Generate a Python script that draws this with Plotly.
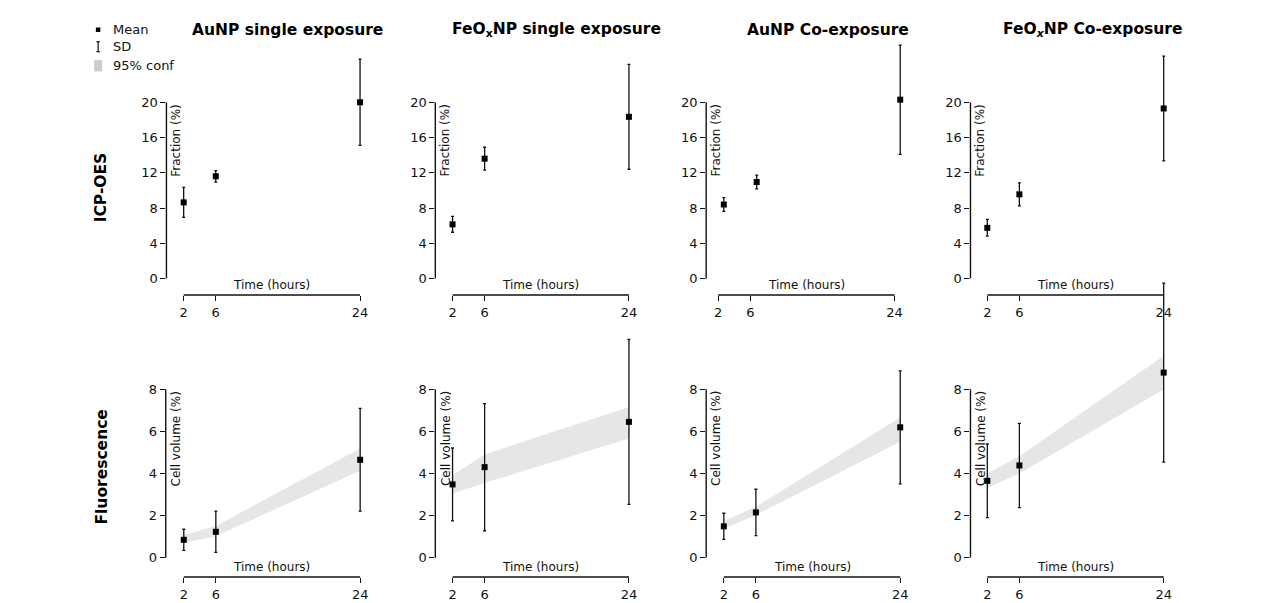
import plotly.graph_objects as go

# ---------------- data ----------------
times = [2, 6, 24]
times_icp_au_co = [2.7, 6.8, 24.7]

panel_titles = ["<b>AuNP single exposure</b>",
                "<b>FeO<sub>x</sub>NP single exposure</b>",
                "<b>AuNP Co-exposure</b>",
                "<b>FeO<sub><i>x</i></sub>NP Co-exposure</b>"]
row_titles = ["<b>ICP-OES</b>", "<b>Fluorescence</b>"]

# ICP-OES (Fraction %)
icp_au_single_mean = [8.64, 11.6, 20.0]
icp_au_single_sd = [1.7, 0.65, 4.9]
icp_fe_single_mean = [6.15, 13.6, 18.35]
icp_fe_single_sd = [0.9, 1.3, 5.95]
icp_au_co_mean = [8.4, 10.95, 20.3]
icp_au_co_sd = [0.78, 0.78, 6.2]
icp_fe_co_mean = [5.75, 9.55, 19.3]
icp_fe_co_sd = [0.95, 1.3, 5.95]

# Fluorescence (Cell volume %)
fl_au_single_mean = [0.85, 1.23, 4.65]
fl_au_single_sd = [0.5, 0.98, 2.44]
fl_au_single_lo = [0.71, 1.02, 4.13]
fl_au_single_hi = [1.08, 1.5, 5.19]

fl_fe_single_mean = [3.48, 4.3, 6.45]
fl_fe_single_sd = [1.73, 3.02, 3.92]
fl_fe_single_lo = [3.05, 3.55, 5.66]
fl_fe_single_hi = [3.92, 4.9, 7.16]

fl_au_co_mean = [1.49, 2.15, 6.19]
fl_au_co_sd = [0.62, 1.1, 2.68]
fl_au_co_lo = [1.39, 2.03, 5.5]
fl_au_co_hi = [1.74, 2.42, 6.66]

fl_fe_co_mean = [3.65, 4.38, 8.79]
fl_fe_co_sd = [1.75, 2.0, 4.25]
fl_fe_co_lo = [3.31, 4.0, 8.0]
fl_fe_co_hi = [4.0, 4.82, 9.59]

icp_ticks = [0, 4, 8, 12, 16, 20]
fl_ticks = [0, 2, 4, 6, 8]
time_ticks = [2, 6, 24]

# ---------------- layout helpers ----------------
W, H = 1270, 603
FONT = "DejaVu Sans"
INK = "#111111"
CLEAR = "rgba(0,0,0,0)"


def px(x):
    return x / W


def py(y):
    return 1 - y / H


fig = go.Figure()

icp = [(times, icp_au_single_mean, icp_au_single_sd),
       (times, icp_fe_single_mean, icp_fe_single_sd),
       (times_icp_au_co, icp_au_co_mean, icp_au_co_sd),
       (times, icp_fe_co_mean, icp_fe_co_sd)]
fl = [(fl_au_single_mean, fl_au_single_sd, fl_au_single_lo, fl_au_single_hi),
      (fl_fe_single_mean, fl_fe_single_sd, fl_fe_single_lo, fl_fe_single_hi),
      (fl_au_co_mean, fl_au_co_sd, fl_au_co_lo, fl_au_co_hi),
      (fl_fe_co_mean, fl_fe_co_sd, fl_fe_co_lo, fl_fe_co_hi)]

# pixel geometry
xscale = 8.03
top_left = [166.7, 436.0, 707.3, 972.0]
top_x0 = [-0.15, -0.15, 0.5, -0.1]
bot_left = [166.0, 436.0, 707.3, 972.0]
bot_x0 = [-0.25, -0.15, -0.2, -0.1]
span = 25.0

rows = [
    dict(dom=(40, 295), zero=278.5, scale=8.81, ticks=icp_ticks, top=20,
         ylab="Fraction (%)", lefts=top_left, x0s=top_x0),
    dict(dom=(278, 577), zero=557.7, scale=21.06, ticks=fl_ticks, top=8,
         ylab="Cell volume (%)", lefts=bot_left, x0s=bot_x0),
]

shapes = []
annotations = []
layout_axes = {}

for r, row in enumerate(rows):
    ytop_px, ybot_px = row["dom"]
    yr = [-(ybot_px - row["zero"]) / row["scale"], (row["zero"] - ytop_px) / row["scale"]]
    for c in range(4):
        idx = r * 4 + c + 1
        xa = "x" if idx == 1 else f"x{idx}"
        ya = "y" if idx == 1 else f"y{idx}"
        xkey = "xaxis" if idx == 1 else f"xaxis{idx}"
        ykey = "yaxis" if idx == 1 else f"yaxis{idx}"
        left = row["lefts"][c]
        x0 = row["x0s"][c]
        layout_axes[xkey] = dict(
            domain=[px(left), px(left + span * xscale)], range=[x0, x0 + span],
            anchor=ya, tickvals=time_ticks, ticks="outside", ticklen=5, tickwidth=1.3,
            tickcolor=INK, showline=False, showgrid=False, zeroline=False,
            tickfont=dict(family=FONT, size=13, color=INK), fixedrange=True)
        layout_axes[ykey] = dict(
            domain=[py(ybot_px), py(ytop_px)], range=yr, anchor=xa,
            tickvals=row["ticks"], ticks="outside", ticklen=5, tickwidth=1.3,
            tickcolor=INK, showline=False, showgrid=False, zeroline=False,
            tickfont=dict(family=FONT, size=13, color=INK), fixedrange=True)

        # spines
        shapes.append(dict(type="line", xref=f"{xa} domain", yref=ya, x0=0, x1=0,
                           y0=0, y1=row["top"], line=dict(color=INK, width=1.4)))
        shapes.append(dict(type="line", xref=xa, yref=f"{ya} domain", x0=time_ticks[0],
                           x1=time_ticks[-1], y0=0, y1=0, line=dict(color=INK, width=1.4)))

        annotations.append(dict(text="Time (hours)", xref=xa, yref=f"{ya} domain",
                                x=13, y=0, xanchor="center", yanchor="bottom", yshift=1,
                                showarrow=False, font=dict(family=FONT, size=12, color=INK)))
        annotations.append(dict(text=row["ylab"], xref=f"{xa} domain", yref=ya,
                                x=0, y=row["top"], xanchor="center", yanchor="top",
                                xshift=10, textangle=-90, showarrow=False,
                                font=dict(family=FONT, size=12, color=INK)))

        if r == 0:
            tx, m, sd = icp[c]
        else:
            m, sd, lo, hi = fl[c]
            tx = times
            fig.add_trace(go.Scatter(
                x=list(tx) + list(tx[::-1]), y=list(hi) + list(lo[::-1]),
                fill="toself", fillcolor="#e6e6e6", mode="lines",
                line=dict(width=0, color="#e6e6e6"), hoverinfo="skip",
                xaxis=xa, yaxis=ya, showlegend=False))
        fig.add_trace(go.Scatter(
            x=tx, y=m, mode="markers", cliponaxis=False,
            marker=dict(symbol="square", size=6, color="black"),
            error_y=dict(type="data", array=sd, visible=True, color=INK,
                         thickness=1.3, width=1.5),
            xaxis=xa, yaxis=ya, showlegend=False))

# panel titles
title_centers = [288, 557, 829, 1095]
for t, cx in zip(panel_titles, title_centers):
    annotations.append(dict(text=t, xref="paper", yref="paper", x=px(cx), y=py(30),
                            xanchor="center", yanchor="middle", showarrow=False,
                            font=dict(family=FONT, size=15.5, color="black")))

# row titles
for t, cy in zip(row_titles, [187.5, 466.7]):
    annotations.append(dict(text=t, xref="paper", yref="paper", x=px(102), y=py(cy),
                            xanchor="center", yanchor="middle", textangle=-90,
                            showarrow=False,
                            font=dict(family=FONT, size=15.5, color="black")))

# legend (glyphs + text)
shapes.append(dict(type="rect", xref="paper", yref="paper",
                   x0=px(96), x1=px(100.5), y0=py(32), y1=py(27.5),
                   fillcolor="black", line=dict(width=0)))
shapes.append(dict(type="line", xref="paper", yref="paper",
                   x0=px(98.3), x1=px(98.3), y0=py(41.7), y1=py(51.7),
                   line=dict(color=INK, width=1.2)))
for yy in (41.7, 51.7):
    shapes.append(dict(type="line", xref="paper", yref="paper",
                       x0=px(96.6), x1=px(100), y0=py(yy), y1=py(yy),
                       line=dict(color=INK, width=1.2)))
shapes.append(dict(type="rect", xref="paper", yref="paper",
                   x0=px(94.3), x1=px(102.3), y0=py(71.5), y1=py(60),
                   fillcolor="#cccccc", line=dict(width=0)))
for t, yy in zip(["Mean", "SD", "95% conf"], [29.5, 47.0, 65.5]):
    annotations.append(dict(text=t, xref="paper", yref="paper", x=px(111.5), y=py(yy),
                            xanchor="left", yanchor="middle", showarrow=False,
                            font=dict(family=FONT, size=13, color=INK)))

fig.update_layout(
    width=W, height=H, margin=dict(l=0, r=0, t=0, b=0),
    paper_bgcolor="white", plot_bgcolor=CLEAR,
    showlegend=False, shapes=shapes, annotations=annotations,
    font=dict(family=FONT, color=INK),
    **layout_axes)

fig.write_html("out.html", config={"displayModeBar": False},
               post_script="document.body.style.margin='0px';")
